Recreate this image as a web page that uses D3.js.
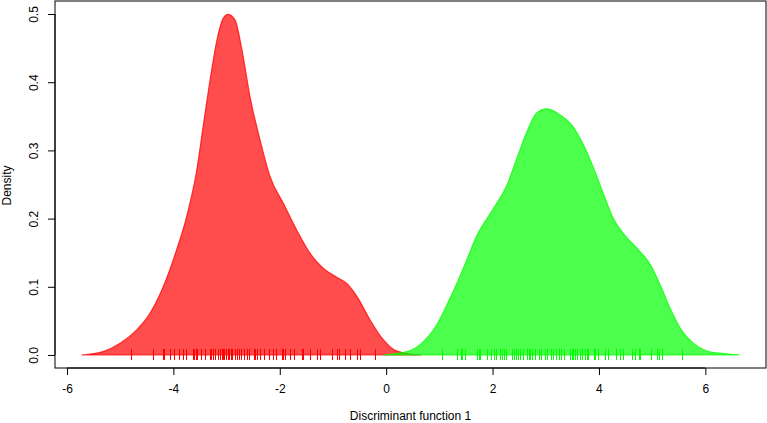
<!DOCTYPE html>
<html><head><meta charset="utf-8">
<script src="https://cdn.jsdelivr.net/npm/d3@7"></script>
<style>html,body{margin:0;padding:0;background:#fff;}svg{display:block;}</style>
</head><body>
<script>
// Density curve of group 1 (red): [x, density]
const redX = [-5.73,-5.32,-5.00,-4.69,-4.44,-4.19,-3.94,-3.75,-3.56,-3.44,-3.31,-3.18,-3.06,-2.97,-2.84,-2.71,-2.56,-2.37,-2.18,-1.93,-1.68,-1.43,-1.18,-0.93,-0.74,-0.55,-0.30,-0.05,0.14,0.33,0.66];
const redY = [0,0.005,0.0172,0.0367,0.061,0.100,0.154,0.203,0.271,0.335,0.403,0.462,0.494,0.4995,0.491,0.447,0.379,0.315,0.261,0.222,0.183,0.149,0.127,0.114,0.105,0.086,0.051,0.022,0.008,0.003,0];
// Density curve of group 2 (green)
const greenX = [-0.06,0.39,0.70,0.95,1.20,1.45,1.71,2.02,2.27,2.46,2.65,2.83,3.02,3.27,3.49,3.71,3.90,4.09,4.27,4.46,4.72,4.97,5.15,5.34,5.53,5.78,6.03,6.34,6.64];
const greenY = [0,0.0048,0.0195,0.044,0.083,0.127,0.176,0.215,0.249,0.289,0.328,0.355,0.361,0.352,0.337,0.308,0.274,0.235,0.200,0.178,0.156,0.132,0.103,0.068,0.039,0.017,0.0059,0.002,0];
// Rug (observed discriminant scores)
const redRug = [-4.80,-4.39,-4.20,-4.17,-4.07,-3.98,-3.89,-3.81,-3.76,-3.63,-3.61,-3.58,-3.55,-3.48,-3.40,-3.32,-3.29,-3.25,-3.21,-3.17,-3.12,-3.09,-3.07,-3.04,-3.01,-2.98,-2.95,-2.92,-2.89,-2.85,-2.81,-2.77,-2.72,-2.67,-2.62,-2.58,-2.48,-2.46,-2.43,-2.38,-2.29,-2.21,-2.12,-2.07,-1.96,-1.93,-1.90,-1.81,-1.74,-1.59,-1.56,-1.43,-1.30,-1.24,-1.02,-0.92,-0.88,-0.77,-0.68,-0.55,-0.49,-0.21];
const greenRug = [1.05,1.33,1.40,1.43,1.49,1.71,1.74,1.77,1.90,1.97,2.02,2.06,2.14,2.18,2.22,2.25,2.36,2.40,2.44,2.47,2.52,2.58,2.65,2.68,2.71,2.75,2.80,2.87,2.91,2.99,3.02,3.10,3.14,3.20,3.24,3.29,3.35,3.46,3.49,3.52,3.55,3.59,3.65,3.68,3.74,3.77,3.80,3.90,3.93,3.99,4.12,4.17,4.32,4.40,4.46,4.63,4.68,4.75,4.78,4.97,5.09,5.13,5.19,5.57];
const xTicks = [-6,-4,-2,0,2,4,6];
const yTicks = [0,0.1,0.2,0.3,0.4,0.5];
const xLabel = "Discriminant function 1";
const yLabel = "Density";

const W = 767, H = 423;
const m = {left:55, right:1, top:1, bottom:55};
const FONT = "Liberation Sans, Arial, Helvetica, sans-serif";
const svg = d3.select("body").append("svg").attr("width",W).attr("height",H);
const x = d3.scaleLinear().domain([-6.225, 7.14]).range([m.left, W - m.right]);
const y = d3.scaleLinear().domain([-0.0191, 0.5191]).range([H - m.bottom, m.top]);

function poly(xs, ys){ return xs.map((v,i)=>[v, ys[i]]); }
const area = d3.area().x(d=>x(d[0])).y0(y(0)).y1(d=>y(d[1])).curve(d3.curveMonotoneX);

svg.append("path").datum(poly(redX, redY)).attr("d", area)
  .attr("fill","rgba(255,0,0,0.7)").attr("stroke","rgba(255,0,0,0.75)").attr("stroke-width",1.2);
svg.append("path").datum(poly(greenX, greenY)).attr("d", area)
  .attr("fill","rgba(0,255,0,0.7)").attr("stroke","rgba(0,255,0,0.75)").attr("stroke-width",1.2);

svg.append("g").selectAll("line").data(redRug).join("line")
  .attr("x1",d=>Math.round(x(d))+0.5).attr("x2",d=>Math.round(x(d))+0.5)
  .attr("y1",y(0)-6).attr("y2",y(0)+5).attr("stroke","#ff0000").attr("stroke-width",1);
svg.append("g").selectAll("line").data(greenRug).join("line")
  .attr("x1",d=>Math.round(x(d))+0.5).attr("x2",d=>Math.round(x(d))+0.5)
  .attr("y1",y(0)-6).attr("y2",y(0)+5).attr("stroke","#00ff00").attr("stroke-width",1);

// box
svg.append("rect").attr("x",m.left).attr("y",m.top).attr("width",W-m.left-m.right).attr("height",H-m.top-m.bottom)
  .attr("fill","none").attr("stroke","#000").attr("stroke-width",1);

// x axis
const xa = svg.append("g").attr("transform",`translate(0,${H-m.bottom})`)
  .call(d3.axisBottom(x).tickValues(xTicks).tickSize(7).tickSizeOuter(0).tickFormat(d => String(d)));
xa.select(".domain").attr("d",`M${x(-6)},0H${x(6)}`).attr("stroke","#000");
xa.selectAll(".tick line").attr("stroke","#000");
xa.selectAll(".tick text").attr("y",22).attr("dy",null).attr("dominant-baseline","middle")
  .attr("font-family",FONT).attr("font-size",12).attr("fill","#000");

// y axis
const ya = svg.append("g").attr("transform",`translate(${m.left},0)`)
  .call(d3.axisLeft(y).tickValues(yTicks).tickSize(7).tickSizeOuter(0).tickFormat(d3.format(".1f")));
ya.select(".domain").attr("d",`M0,${y(0)}V${y(0.5)}`).attr("stroke","#000");
ya.selectAll(".tick line").attr("stroke","#000");
ya.selectAll(".tick text").attr("x",null).attr("dy",null)
  .attr("transform","translate(-20,0) rotate(-90)").attr("text-anchor","middle").attr("dominant-baseline","middle")
  .attr("font-family",FONT).attr("font-size",12).attr("fill","#000");

svg.append("text").attr("x",(m.left + W - m.right)/2).attr("y",H-6)
  .attr("text-anchor","middle").attr("dominant-baseline","middle")
  .attr("font-family",FONT).attr("font-size",12).text(xLabel);
svg.append("text").attr("transform",`translate(8,${(y(0)+y(0.5))/2+1}) rotate(-90)`)
  .attr("text-anchor","middle").attr("dominant-baseline","middle")
  .attr("font-family",FONT).attr("font-size",12).text(yLabel);
</script>
</body></html>
